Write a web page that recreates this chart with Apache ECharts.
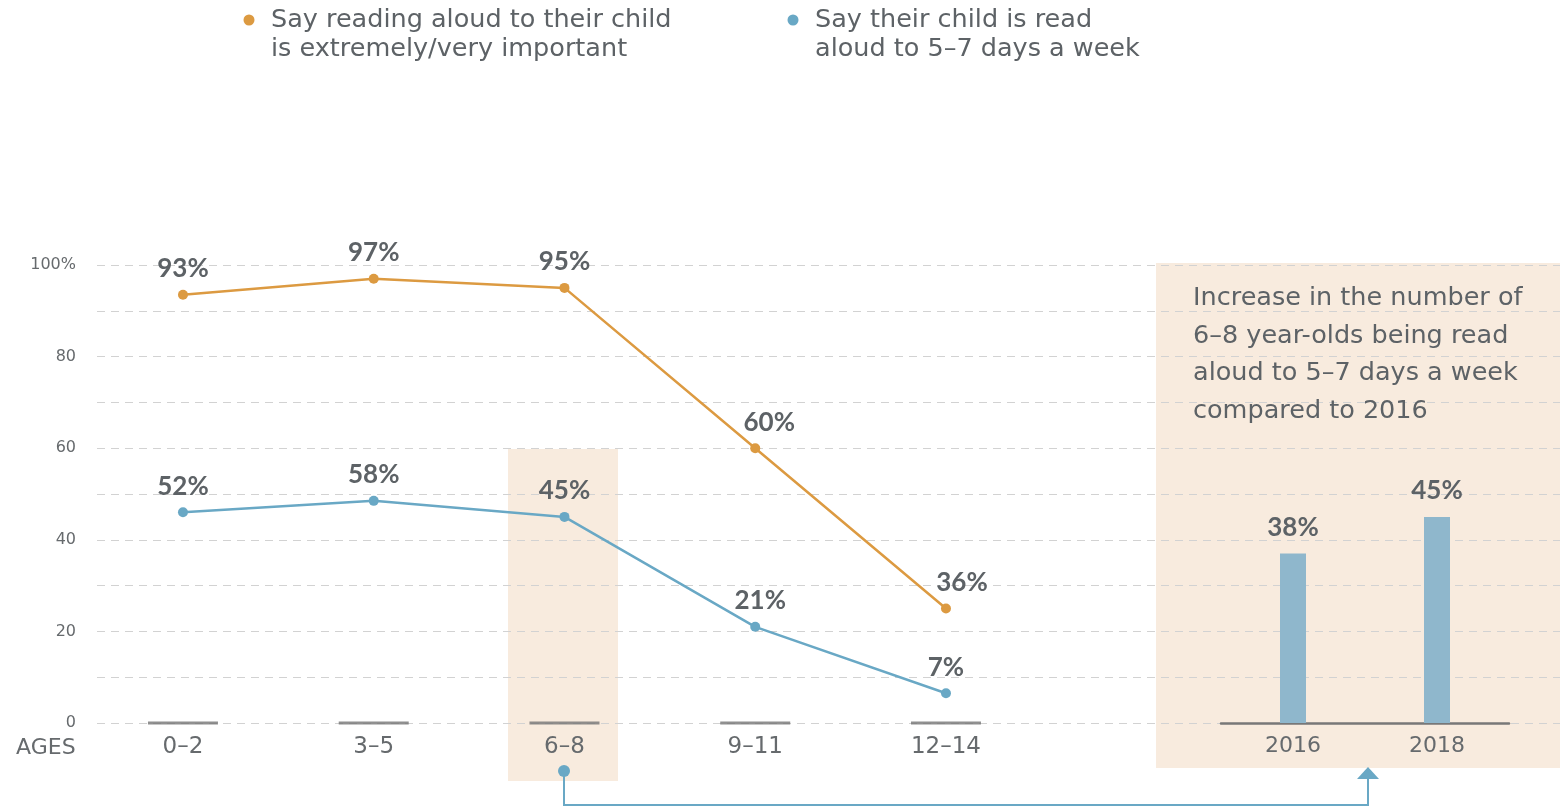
<!DOCTYPE html>
<html>
<head>
<meta charset="utf-8">
<script src="https://cdn.jsdelivr.net/npm/echarts@6/dist/echarts.min.js"></script>
<style>html,body{margin:0;padding:0;background:#fff}#c{width:1560px;height:809px}</style>
</head>
<body>
<div id="c"></div>
<script>
// ---- data ----
const ages = ['0–2', '3–5', '6–8', '9–11', '12–14'];
const importantName = 'Say reading aloud to their child\nis extremely/very important';
const importantValues = [93.5, 97, 95, 60, 25];
const importantLabels = ['93%', '97%', '95%', '60%', '36%'];
const readAloudName = 'Say their child is read\naloud to 5–7 days a week';
const readAloudValues = [46, 48.5, 45, 21, 6.5];
const readAloudLabels = ['52%', '58%', '45%', '21%', '7%'];
const years = ['2016', '2018'];
const yearValues = [37, 45];
const yearLabels = ['38%', '45%'];
const yTickLabels = { 0: '0', 20: '20', 40: '40', 60: '60', 80: '80', 100: '100%' };
const panelText = 'Increase in the number of\n6–8 year-olds being read\naloud to 5–7 days a week\ncompared to 2016';

// ---- style ----
const FONT = '"DejaVu Sans"';
const BOLD_FONT = 'Lato';
const ORANGE = '#dc9a41';
const BLUE = '#69a8c5';
const BAR = '#8fb7cc';
const BEIGE = '#f8ebde';
const TXT = '#5d6266';
const AX = '#666a6d';
const importantOffsets = [[0, 0], [0, 0], [0, 0], [14, 0], [16, 0]];
const readAloudOffsets = [[0, 0], [0, 0], [0, 0], [5, 0], [0, 0]];

function pointData(values, labels, offsets) {
  return values.map((v, i) => ({ value: v, label: { formatter: labels[i], offset: offsets[i] } }));
}

const chart = echarts.init(document.getElementById('c'));
const gTop = 265, gHeight = 458;
const lineLabel = { show: true, position: 'top', distance: 8, color: TXT, fontFamily: BOLD_FONT, fontWeight: 'bold', fontSize: 26 };

chart.setOption({
  animation: false,
  textStyle: { fontFamily: FONT },
  grid: [
    { left: 97, right: 0, top: gTop, height: gHeight },
    { left: 87.6, width: 953.75, top: gTop, height: gHeight },
    { left: 1221, width: 288, top: gTop, height: gHeight }
  ],
  xAxis: [
    { gridIndex: 0, type: 'value', show: false, min: 0, max: 1 },
    {
      gridIndex: 1, type: 'category', data: ages,
      name: 'AGES', nameLocation: 'start', nameGap: 12,
      nameTextStyle: { fontFamily: FONT, fontSize: 22, color: AX, verticalAlign: 'top', padding: [14, 0, 0, 0] },
      axisLine: { show: false }, axisTick: { show: false },
      axisLabel: { fontFamily: FONT, fontSize: 23, color: AX, margin: 13 }
    },
    {
      gridIndex: 2, type: 'category', data: years,
      axisLine: { lineStyle: { color: '#787878', width: 2.5 } }, axisTick: { show: false },
      axisLabel: { fontFamily: FONT, fontSize: 22, color: AX, margin: 12 }
    }
  ],
  yAxis: [
    {
      gridIndex: 0, type: 'value', min: 0, max: 100, interval: 10,
      axisLine: { show: false }, axisTick: { show: false },
      axisLabel: { fontFamily: FONT, fontSize: 16, color: AX, margin: 21, formatter: v => yTickLabels[v] || '' },
      splitLine: { lineStyle: { color: '#d2d2d2', type: [8, 6], width: 1 } }
    },
    { gridIndex: 1, type: 'value', min: 0, max: 100, show: false },
    { gridIndex: 2, type: 'value', min: 0, max: 100, show: false }
  ],
  series: [
    {
      name: 'baseline', type: 'scatter', xAxisIndex: 1, yAxisIndex: 1, silent: true, clip: false,
      symbol: 'rect', symbolSize: [70, 3], itemStyle: { color: '#747474' },
      data: ages.map(() => 0), z: 1
    },
    {
      name: importantName, type: 'line', xAxisIndex: 1, yAxisIndex: 1,
      symbol: 'circle', symbolSize: 10, color: ORANGE,
      lineStyle: { width: 2.5, color: ORANGE }, itemStyle: { color: ORANGE },
      label: lineLabel,
      data: pointData(importantValues, importantLabels, importantOffsets)
    },
    {
      name: readAloudName, type: 'line', xAxisIndex: 1, yAxisIndex: 1,
      symbol: 'circle', symbolSize: 10, color: BLUE,
      lineStyle: { width: 2.5, color: BLUE }, itemStyle: { color: BLUE },
      label: lineLabel,
      data: pointData(readAloudValues, readAloudLabels, readAloudOffsets)
    },
    {
      name: 'years', type: 'bar', xAxisIndex: 2, yAxisIndex: 2, barWidth: 26,
      itemStyle: { color: BAR },
      label: { show: true, position: 'top', distance: 13, color: TXT, fontFamily: BOLD_FONT, fontWeight: 'bold', fontSize: 26 },
      data: yearValues.map((v, i) => ({ value: v, label: { formatter: yearLabels[i] } }))
    }
  ],
  graphic: [
    { type: 'rect', z: -10, silent: true, shape: { x: 508, y: 449, width: 110, height: 332 }, style: { fill: BEIGE } },
    { type: 'rect', z: -10, silent: true, shape: { x: 1156, y: 263, width: 404, height: 505 }, style: { fill: BEIGE } },
    // legend
    { type: 'circle', silent: true, shape: { cx: 249, cy: 20, r: 5.5 }, style: { fill: ORANGE } },
    { type: 'text', silent: true, x: 271, y: 5.5, style: { text: importantName, font: '25.5px ' + FONT, fill: TXT, lineHeight: 29, verticalAlign: 'top' } },
    { type: 'circle', silent: true, shape: { cx: 793, cy: 20, r: 5.5 }, style: { fill: BLUE } },
    { type: 'text', silent: true, x: 815, y: 5.5, style: { text: readAloudName, font: '25.5px ' + FONT, fill: TXT, lineHeight: 29, verticalAlign: 'top' } },
    // panel caption
    {
      type: 'text', z: 5, silent: true, x: 1193, y: 280,
      style: { text: panelText, font: '25.5px ' + FONT, fill: TXT, lineHeight: 37.5, verticalAlign: 'top' }
    },
    // connector
    { type: 'polyline', z: 5, silent: true, shape: { points: [[564, 771], [564, 805], [1368, 805], [1368, 776]] }, style: { stroke: BLUE, lineWidth: 2, fill: null } },
    { type: 'circle', z: 5, silent: true, shape: { cx: 564, cy: 771, r: 6 }, style: { fill: BLUE } },
    { type: 'polygon', z: 5, silent: true, shape: { points: [[1357, 779], [1379, 779], [1368, 767]] }, style: { fill: BLUE } }
  ]
});
</script>
</body>
</html>
